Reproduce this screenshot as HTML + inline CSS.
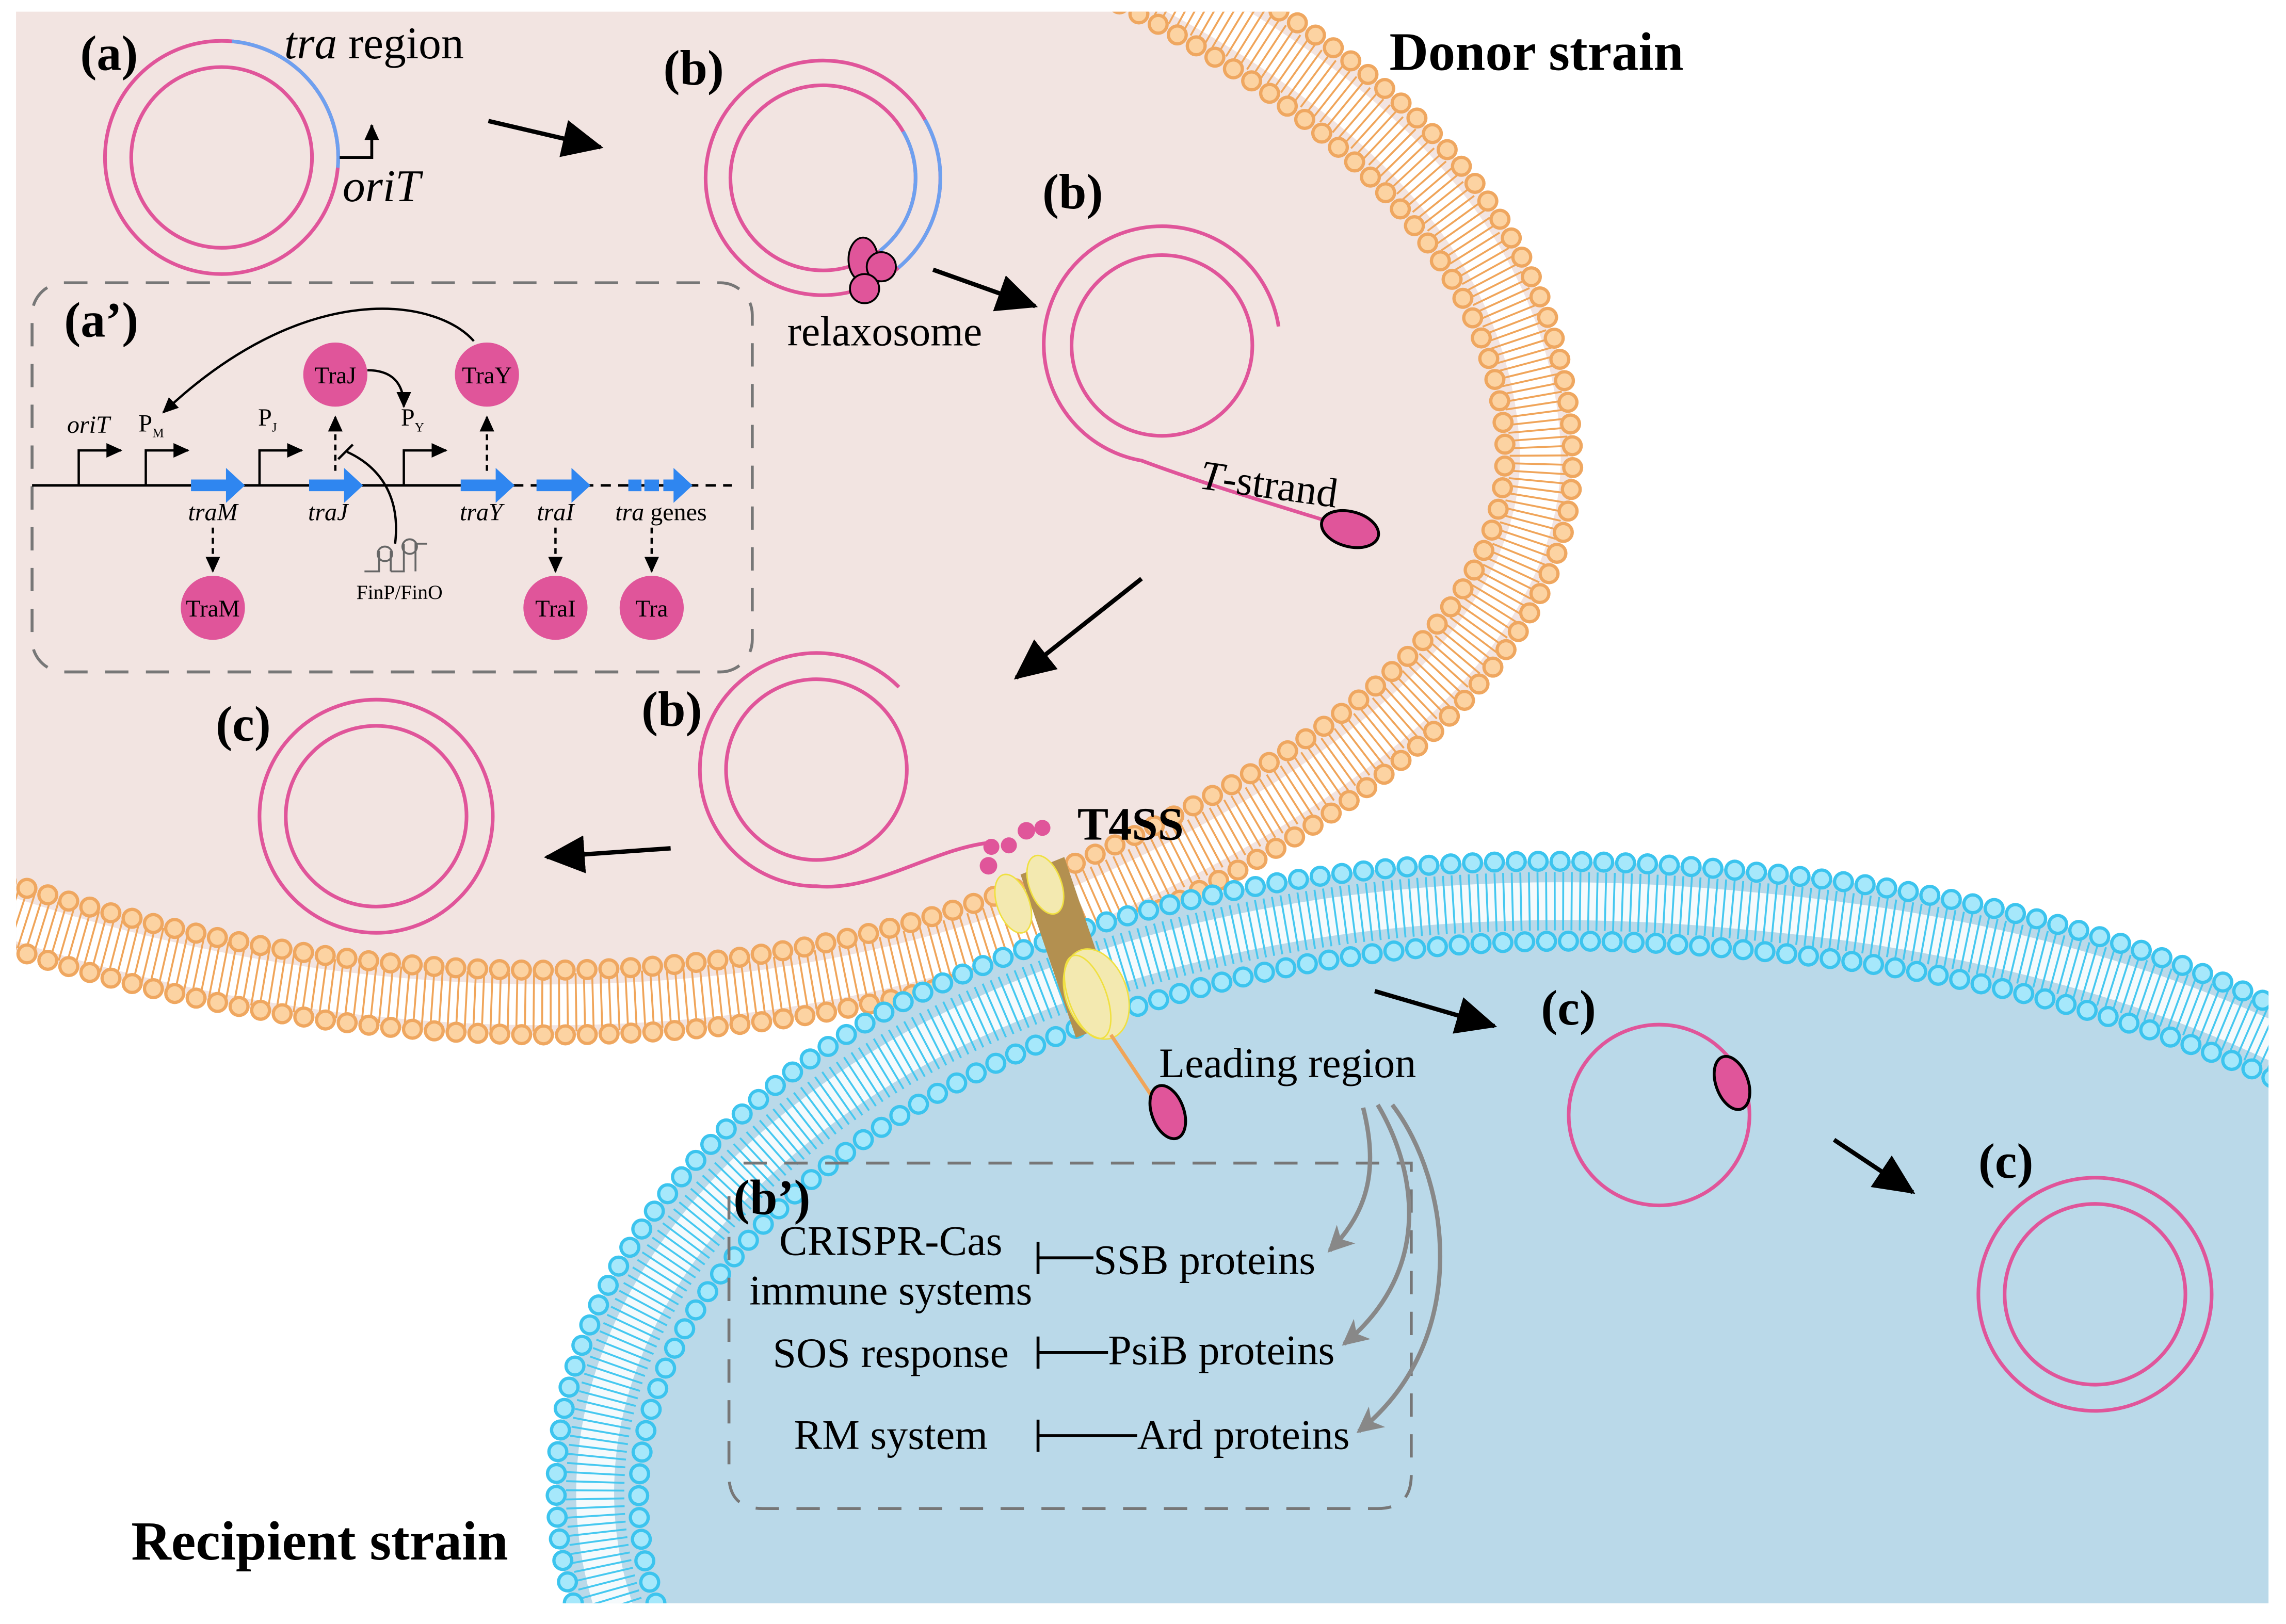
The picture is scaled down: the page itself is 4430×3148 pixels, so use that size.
<!DOCTYPE html>
<html><head><meta charset="utf-8"><style>
html,body{margin:0;padding:0;background:#fff;}
svg{display:block;}
text{font-family:"Liberation Serif",serif;}
</style></head><body>
<svg width="4430" height="3148" viewBox="0 0 1568 1114.2" xmlns="http://www.w3.org/2000/svg">
<defs>
<marker id="ab" markerUnits="userSpaceOnUse" markerWidth="30" markerHeight="26" refX="26" refY="13" orient="auto"><path d="M0,0 L28,13 L0,26 Z" fill="#000"/></marker>
<marker id="as" markerUnits="userSpaceOnUse" markerWidth="12" markerHeight="10" refX="10" refY="5" orient="auto"><path d="M0,0 L11,5 L0,10 Z" fill="#000"/></marker>
<marker id="ag" markerUnits="userSpaceOnUse" markerWidth="20" markerHeight="18" refX="16" refY="9" orient="auto"><path d="M0,0 L18,9 L0,18 L5,9 Z" fill="#888"/></marker>
<clipPath id="cl"><rect x="11" y="8" width="1545" height="1092"/></clipPath>
</defs>
<rect width="1568" height="1115" fill="#fff"/>

<g clip-path="url(#cl)">
<path d="M-10,645 C250,735 540,730 760,640 C960,555 1090,430 1078,300 C1068,150 960,50 830,-20 L-20,-20 Z" fill="#f2e4e1"/>
<path d="M-10,624 C250,714 530,709 740,622 C938,537 1066,425 1056,300 C1046,160 932,56 776,-20" fill="none" stroke="#fff" stroke-width="28"/>
<path d="M-10,622 C250,712 530,708 740,620 C938,535 1065,425 1055,300 C1045,160 930,55 775,-20" fill="none" stroke="#f0a55a" stroke-width="40" stroke-dasharray="1.3 4.5"/>
<g fill="none" stroke-linecap="round" stroke-dasharray="0 15">
<path d="M-10,645 C250,735 540,730 760,640 C960,555 1090,430 1078,300 C1068,150 960,50 830,-20" stroke="#efa760" stroke-width="14.5"/>
<path d="M-10,645 C250,735 540,730 760,640 C960,555 1090,430 1078,300 C1068,150 960,50 830,-20" stroke="#fcd3a2" stroke-width="10"/>
<path d="M-10,600 C250,690 520,685 720,600 C915,515 1040,420 1032,300 C1022,170 900,60 720,-20" stroke="#efa760" stroke-width="14.5"/>
<path d="M-10,600 C250,690 520,685 720,600 C915,515 1040,420 1032,300 C1022,170 900,60 720,-20" stroke="#fcd3a2" stroke-width="10"/>
</g>

<path d="M398,1120 C338,950 448,778 618,688 C798,598 1000,578 1200,598 C1380,613 1500,658 1575,698 L1575,1120 Z" fill="#bad9e9"/>
<path d="M425,1114 C365,955 473,800 638,714 C813,625 1010,606 1200,625 C1375,640 1495,683 1575,722" fill="none" stroke="#fff" stroke-width="26" opacity="0.85"/>
<path d="M425,1114 C365,955 473,800 638,714 C813,625 1010,606 1200,625 C1375,640 1495,683 1575,722" fill="none" stroke="#45c8f0" stroke-width="40" stroke-dasharray="1.3 4.5"/>
<g fill="none" stroke-linecap="round" stroke-dasharray="0 15">
<path d="M398,1114 C338,950 448,778 618,688 C798,598 1000,578 1200,598 C1380,613 1500,658 1575,698" stroke="#3cc4ee" stroke-width="14.5"/>
<path d="M398,1114 C338,950 448,778 618,688 C798,598 1000,578 1200,598 C1380,613 1500,658 1575,698" stroke="#a6e8fb" stroke-width="10"/>
<path d="M455,1114 C395,962 502,822 662,740 C832,652 1020,634 1200,652 C1370,666 1490,707 1575,747" stroke="#3cc4ee" stroke-width="14.5"/>
<path d="M455,1114 C395,962 502,822 662,740 C832,652 1020,634 1200,652 C1370,666 1490,707 1575,747" stroke="#a6e8fb" stroke-width="10"/>
</g>
</g>

<text x="953" y="48" font-size="37" font-weight="bold">Donor strain</text>
<text x="90" y="1070" font-size="38" font-weight="bold">Recipient strain</text>

<text x="55" y="48" font-size="34" font-weight="bold">(a)</text>
<text x="195" y="40" font-size="31"><tspan font-style="italic">tra</tspan> region</text>
<g fill="none" stroke-width="2.5">
<circle cx="152" cy="108" r="80" stroke="#e0559a"/>
<circle cx="152" cy="108" r="62" stroke="#e0559a"/>
<path d="M159,28.3 A80,80 0 0 1 231.7,115" stroke="#6ea0ef"/>
</g>
<path d="M233,108 L255,108 L255,86" fill="none" stroke="#000" stroke-width="2" marker-end="url(#as)"/>
<text x="235" y="138" font-size="31" font-style="italic">oriT</text>
<line x1="335" y1="83" x2="412" y2="101" stroke="#000" stroke-width="3" marker-end="url(#ab)"/>

<text x="455" y="58" font-size="34" font-weight="bold">(b)</text>
<g fill="none" stroke-width="2.5">
<circle cx="564.5" cy="122" r="80.5" stroke="#e0559a"/>
<circle cx="564.5" cy="122" r="63.5" stroke="#e0559a"/>
<path d="M634.5,82.2 A80.5,80.5 0 0 1 616.2,183.7" stroke="#6ea0ef"/>
<path d="M619.5,90.2 A63.5,63.5 0 0 1 603.6,172" stroke="#6ea0ef"/>
</g>
<g fill="#e0559a" stroke="#000" stroke-width="1.3">
<ellipse cx="592" cy="178" rx="10" ry="15"/>
<circle cx="604.5" cy="183" r="10"/>
<circle cx="593" cy="198" r="10"/>
</g>
<text x="540" y="237" font-size="29">relaxosome</text>
<line x1="640" y1="185" x2="710" y2="210" stroke="#000" stroke-width="3" marker-end="url(#ab)"/>

<text x="715" y="143" font-size="34" font-weight="bold">(b)</text>
<g fill="none" stroke="#e0559a" stroke-width="2.5">
<circle cx="797" cy="237" r="62"/>
<path d="M877,224 A81,81 0 1 0 783,316 C820,330 870,345 912,358"/>
</g>
<ellipse cx="926" cy="363" rx="20" ry="12" transform="rotate(15 926 363)" fill="#e0559a" stroke="#000" stroke-width="2"/>
<text x="822" y="335" font-size="28.5" transform="rotate(8 822 335)"><tspan font-style="italic">T</tspan>-strand</text>
<line x1="783" y1="397" x2="697" y2="465" stroke="#000" stroke-width="3" marker-end="url(#ab)"/>

<text x="440" y="498" font-size="34" font-weight="bold">(b)</text>
<g fill="none" stroke="#e0559a" stroke-width="2.5">
<circle cx="560" cy="528" r="62"/>
<path d="M616.6,471.4 A80,80 0 1 0 560,608 C600,612 640,582 680,578"/>
</g>
<line x1="460" y1="582" x2="375" y2="588" stroke="#000" stroke-width="3" marker-end="url(#ab)"/>

<text x="148" y="508" font-size="34" font-weight="bold">(c)</text>
<g fill="none" stroke="#e0559a" stroke-width="2.5">
<circle cx="258" cy="560" r="80"/>
<circle cx="258" cy="560" r="62"/>
</g>

<rect x="22" y="194" width="494" height="267" rx="22" fill="none" stroke="#777" stroke-width="2" stroke-dasharray="16 12"/>
<text x="44" y="231" font-size="34" font-weight="bold">(a’)</text>
<line x1="22" y1="333" x2="352" y2="333" stroke="#000" stroke-width="1.8"/>
<line x1="352" y1="333" x2="502" y2="333" stroke="#000" stroke-width="1.8" stroke-dasharray="7 5"/>
<g fill="none" stroke="#000" stroke-width="1.6">
<path d="M54,333 V309 H83" marker-end="url(#as)"/>
<path d="M100,333 V309 H129" marker-end="url(#as)"/>
<path d="M178,333 V309 H207" marker-end="url(#as)"/>
<path d="M277,333 V309 H306" marker-end="url(#as)"/>
<path d="M325,234 C300,205 210,190 112,283" marker-end="url(#as)"/>
<path d="M252,254 C268,254 277,262 277,279" marker-end="url(#as)"/>
<path d="M271,373 C275,340 260,320 238,310"/>
<line x1="232" y1="315" x2="242" y2="305"/>
</g>
<g stroke="#000" stroke-width="1.6" stroke-dasharray="4 3" fill="none">
<line x1="146" y1="362" x2="146" y2="392" marker-end="url(#as)"/>
<line x1="230" y1="323" x2="230" y2="286" marker-end="url(#as)"/>
<line x1="334" y1="323" x2="334" y2="286" marker-end="url(#as)"/>
<line x1="381" y1="362" x2="381" y2="392" marker-end="url(#as)"/>
<line x1="447" y1="362" x2="447" y2="392" marker-end="url(#as)"/>
</g>
<g fill="#2f86f0">
<path d="M131,329 H155 V321 L168,333 L155,345 V337 H131 Z"/>
<path d="M212,329 H236 V321 L249,333 L236,345 V337 H212 Z"/>
<path d="M316,329 H340 V321 L353,333 L340,345 V337 H316 Z"/>
<path d="M368,329 H392 V321 L405,333 L392,345 V337 H368 Z"/>
<rect x="431" y="329" width="9" height="8"/>
<rect x="442" y="329" width="10" height="8"/>
<path d="M455,329 H462 V321 L475,333 L462,345 V337 H455 Z"/>
</g>
<g font-size="17">
<text x="46" y="297" font-style="italic">oriT</text>
<text x="95" y="296">P<tspan font-size="9" dy="4">M</tspan></text>
<text x="177" y="292">P<tspan font-size="9" dy="4">J</tspan></text>
<text x="275" y="292">P<tspan font-size="9" dy="4">Y</tspan></text>
<text x="146" y="357" text-anchor="middle" font-style="italic">traM</text>
<text x="225" y="357" text-anchor="middle" font-style="italic">traJ</text>
<text x="330" y="357" text-anchor="middle" font-style="italic">traY</text>
<text x="381" y="357" text-anchor="middle" font-style="italic">traI</text>
<text x="422" y="357"><tspan font-style="italic">tra</tspan> genes</text>
</g>
<g fill="none" stroke="#666" stroke-width="1.3">
<path d="M250,392 H260 V378 M268,392 V378 M268,392 H277 V373 M285,392 V373 H293"/>
<circle cx="264" cy="380" r="5"/>
<circle cx="281" cy="375" r="5"/>
</g>
<text x="274" y="411" font-size="14" text-anchor="middle">FinP/FinO</text>
<g fill="#e0559a">
<circle cx="146" cy="417" r="22"/><circle cx="230" cy="257" r="22"/><circle cx="334" cy="257" r="22"/><circle cx="381" cy="417" r="22"/><circle cx="447" cy="417" r="22"/>
</g>
<g font-size="16.5" text-anchor="middle">
<text x="146" y="423">TraM</text><text x="230" y="263">TraJ</text><text x="334" y="263">TraY</text><text x="381" y="423">TraI</text><text x="447" y="423">Tra</text>
</g>

<path d="M700,600 L730,588 L768,700 L738,712 Z" fill="#b39050"/>
<ellipse cx="695" cy="620" rx="11" ry="21" transform="rotate(-20 695 620)" fill="#f3e9b0" stroke="#f0e040" stroke-width="1"/>
<ellipse cx="717" cy="607" rx="11" ry="21" transform="rotate(-20 717 607)" fill="#f3e9b0" stroke="#f0e040" stroke-width="1"/>
<ellipse cx="752" cy="682" rx="21" ry="32" transform="rotate(-20 752 682)" fill="#f3e9b0" stroke="#f0e040" stroke-width="1"/>
<ellipse cx="746" cy="684" rx="13" ry="30" transform="rotate(-20 746 684)" fill="none" stroke="#f0e040" stroke-width="1"/>
<g fill="#e0559a">
<circle cx="678" cy="594" r="6"/><circle cx="680" cy="581" r="5.5"/><circle cx="692" cy="580" r="5.5"/><circle cx="704" cy="570" r="6"/><circle cx="715" cy="568" r="5.5"/>
</g>
<text x="739" y="576" font-size="32" font-weight="bold">T4SS</text>
<line x1="762" y1="710" x2="790" y2="752" stroke="#f0a55a" stroke-width="2.5"/>
<ellipse cx="801" cy="763" rx="11" ry="19" transform="rotate(-20 801 763)" fill="#e0559a" stroke="#000" stroke-width="2"/>
<text x="795" y="739" font-size="29">Leading region</text>

<line x1="943" y1="680" x2="1025" y2="704" stroke="#000" stroke-width="3" marker-end="url(#ab)"/>
<text x="1057" y="703" font-size="34" font-weight="bold">(c)</text>
<circle cx="1138" cy="765" r="62" fill="none" stroke="#e0559a" stroke-width="2.5"/>
<ellipse cx="1188" cy="743" rx="11" ry="19" transform="rotate(-20 1188 743)" fill="#e0559a" stroke="#000" stroke-width="2"/>
<line x1="1258" y1="782" x2="1312" y2="818" stroke="#000" stroke-width="3" marker-end="url(#ab)"/>
<text x="1357" y="808" font-size="34" font-weight="bold">(c)</text>
<g fill="none" stroke="#e0559a" stroke-width="2.5">
<circle cx="1437" cy="888" r="80"/>
<circle cx="1437" cy="888" r="62"/>
</g>

<path d="M510,798 H968 V1012 Q968,1035 945,1035 H523 Q500,1035 500,1012 V820" fill="none" stroke="#777" stroke-width="2" stroke-dasharray="16 12"/>
<text x="503" y="833" font-size="34" font-weight="bold">(b’)</text>
<g fill="none" stroke="#888" stroke-width="3">
<path d="M935,760 C945,800 940,830 912,858" marker-end="url(#ag)"/>
<path d="M945,758 C970,800 985,870 922,922" marker-end="url(#ag)"/>
<path d="M955,758 C995,810 1010,920 932,982" marker-end="url(#ag)"/>
</g>
<g font-size="29">
<text x="611" y="861" text-anchor="middle">CRISPR-Cas</text>
<text x="611" y="895" text-anchor="middle">immune systems</text>
<text x="750" y="874">SSB proteins</text>
<text x="611" y="938" text-anchor="middle">SOS response</text>
<text x="760" y="936">PsiB proteins</text>
<text x="611" y="994" text-anchor="middle">RM system</text>
<text x="780" y="994">Ard proteins</text>
</g>
<g stroke="#000" stroke-width="2" fill="none">
<path d="M712,852 V874 M712,863 H750"/>
<path d="M712,917 V939 M712,928 H760"/>
<path d="M712,974 V996 M712,985 H780"/>
</g>
</svg>
</body></html>
